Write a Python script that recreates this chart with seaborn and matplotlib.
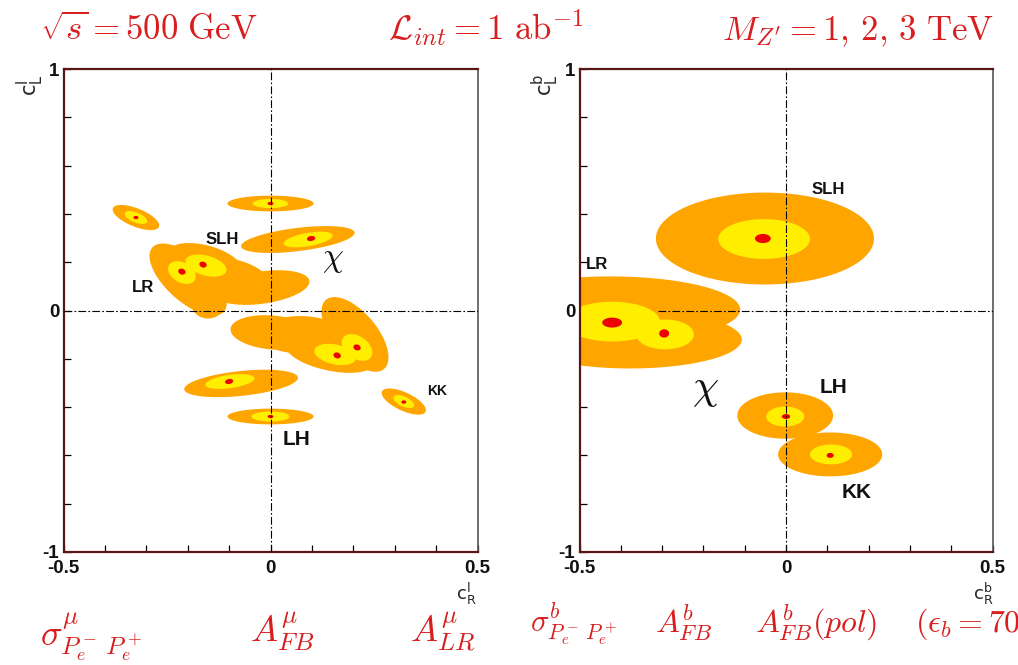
import numpy as np
import matplotlib
matplotlib.use("Agg")
import matplotlib.pyplot as plt
import seaborn as sns

sns.set_theme(style="white")
plt.rcParams['font.family'] = ['Liberation Sans', 'DejaVu Sans']

# ---------------- data: allowed regions (cx, cy, semi-a, semi-b [x-units], tilt deg) -------------
LEFT_ORANGE = [
    (-0.325, 0.385, 0.060, 0.022, -22),   # top-left blob
    (0.000, 0.443, 0.104, 0.019, 0),      # top centre
    (0.066, 0.294, 0.138, 0.028, 7),      # chi
    (-0.199, 0.128, 0.116, 0.053, -42),   # LR / SLH lump
    (-0.158, 0.203, 0.092, 0.039, -15),
    (-0.097, 0.128, 0.100, 0.050, -12),
    (-0.021, 0.095, 0.116, 0.039, 8),
    (-0.151, 0.025, 0.039, 0.034, 0),
    (0.004, -0.091, 0.101, 0.041, -5),    # lower lump
    (0.072, -0.100, 0.100, 0.045, 0),
    (0.204, -0.099, 0.109, 0.053, -50),
    (0.144, -0.182, 0.109, 0.039, -12),
    (-0.071, -0.302, 0.138, 0.030, 6),    # lower-left
    (0.000, -0.439, 0.104, 0.019, 0),     # LH
    (0.322, -0.377, 0.058, 0.022, -25),   # KK
]
LEFT_YELLOW = [
    (-0.325, 0.385, 0.029, 0.012, -22),
    (0.000, 0.443, 0.043, 0.011, 0),
    (0.091, 0.294, 0.060, 0.016, 10),
    (-0.214, 0.157, 0.036, 0.024, -30),
    (-0.156, 0.186, 0.051, 0.024, -15),
    (0.156, -0.182, 0.051, 0.024, -12),
    (0.209, -0.153, 0.041, 0.027, -35),
    (-0.098, -0.294, 0.060, 0.016, 8),
    (0.000, -0.439, 0.046, 0.012, 0),
    (0.322, -0.377, 0.027, 0.012, -25),
]
LEFT_RED = [
    (-0.325, 0.385, 0.006, 0.004, 0),
    (0.000, 0.443, 0.007, 0.004, 0),
    (0.098, 0.298, 0.010, 0.006, 10),
    (-0.214, 0.161, 0.009, 0.007, -20),
    (-0.163, 0.190, 0.009, 0.007, -20),
    (0.161, -0.186, 0.009, 0.007, -20),
    (0.209, -0.153, 0.009, 0.007, -20),
    (-0.100, -0.294, 0.010, 0.006, 10),
    (0.000, -0.439, 0.007, 0.004, 0),
    (0.322, -0.379, 0.006, 0.004, 0),
]
RIGHT_ORANGE = [
    (-0.051, 0.298, 0.264, 0.111, 0),     # SLH
    (-0.426, 0.004, 0.315, 0.080, 0),     # LR
    (-0.378, -0.120, 0.271, 0.070, 0),    # chi
    (-0.002, -0.435, 0.116, 0.056, 0),    # LH
    (0.107, -0.596, 0.126, 0.053, 0),     # KK
]
RIGHT_YELLOW = [
    (-0.053, 0.296, 0.111, 0.048, 0),
    (-0.421, -0.046, 0.116, 0.048, 0),
    (-0.293, -0.099, 0.070, 0.036, 0),
    (-0.002, -0.439, 0.046, 0.024, 0),
    (0.109, -0.596, 0.051, 0.024, 0),
]
RIGHT_RED = [
    (-0.056, 0.298, 0.019, 0.011, 0),
    (-0.421, -0.050, 0.024, 0.012, 0),
    (-0.295, -0.095, 0.012, 0.010, 0),
    (0.000, -0.439, 0.010, 0.006, 0),
    (0.107, -0.600, 0.0085, 0.006, 0),
]

LEFT_LABELS = [("SLH", -0.117, 0.294, 12), ("LR", -0.308, 0.095, 12),
               ("KK", 0.402, -0.335, 10), ("LH", 0.064, -0.534, 15)]
LEFT_CHI = (0.151, 0.211, 24)
RIGHT_LABELS = [("SLH", 0.102, 0.501, 12), ("LR", -0.458, 0.190, 12),
                ("LH", 0.114, -0.319, 15), ("KK", 0.172, -0.754, 15)]
RIGHT_CHI = (-0.196, -0.327, 30)

HEADER = [(r"$\sqrt{s} = 500\ \mathrm{GeV}$", 40),
          (r"$\mathcal{L}_{int} = 1\ \mathrm{ab}^{-1}$", 388),
          (r"$M_{Z'} = 1,\, 2,\, 3\ \mathrm{TeV}$", 722)]
FOOTER = [(r"$\sigma^{\mu}_{P_e^-\, P_e^+}$", 40, 645, 26),
          (r"$A^{\mu}_{FB}$", 250, 642, 26),
          (r"$A^{\mu}_{LR}$", 410, 642, 26),
          (r"$\sigma^{b}_{P_e^-\, P_e^+}$", 530, 632, 22),
          (r"$A^{b}_{FB}$", 655, 632, 23),
          (r"$A^{b}_{FB}(pol)$", 755, 632, 23),
          (r"$(\epsilon_b = 70$", 915, 632, 23)]

ORANGE, YELLOW, RED = '#ffa500', '#ffee00', '#ee0000'
TXT_RED = '#d81e1e'

W, H = 1018, 665
fig = plt.figure(figsize=(W / 100, H / 100), dpi=100)
fig.patch.set_facecolor('white')

ax_w_px, ax_h_px = 414.0, 483.0
axL = fig.add_axes([63.5 / W, 1 - 552 / H, ax_w_px / W, ax_h_px / H])
axR = fig.add_axes([579.5 / W, 1 - 552 / H, 413.0 / W, ax_h_px / H])


def ellipse(ax, cx, cy, a, b, ang, color, z):
    kx = ax_w_px / 1.0
    ky = ax_h_px / 2.0
    t = np.linspace(0, 2 * np.pi, 240)
    u = a * kx * np.cos(t)
    v = b * kx * np.sin(t)
    th = np.radians(ang)
    X = u * np.cos(th) - v * np.sin(th)
    Y = u * np.sin(th) + v * np.cos(th)
    ax.fill(cx + X / kx, cy + Y / ky, color=color, lw=0, zorder=z)


def panel(ax, orange, yellow, red, hline_start):
    ax.set_xlim(-0.5, 0.5)
    ax.set_ylim(-1, 1)
    ax.set_facecolor('white')
    for e in orange:
        ellipse(ax, *e, ORANGE, 1)
    for e in yellow:
        ellipse(ax, *e, YELLOW, 2)
    for e in red:
        ellipse(ax, *e, RED, 3)
    ax.plot([0, 0], [-1, 1], color='black', lw=0.8, ls=(0, (7, 2, 1.5, 2)), zorder=4)
    ax.plot([hline_start, 0.5], [0, 0], color='black', lw=0.8, ls=(0, (7, 2, 1.5, 2)), zorder=4)
    ax.set_xticks([-0.5, 0, 0.5])
    ax.set_xticklabels(['-0.5', '0', '0.5'])
    ax.set_yticks([-1, 0, 1])
    ax.set_yticklabels(['-1', '0', '1'])
    ax.set_xticks(np.arange(-0.5, 0.51, 0.1), minor=True)
    ax.set_yticks(np.arange(-1, 1.01, 0.2), minor=True)
    ax.tick_params(axis='both', which='both', direction='in', length=5, width=0.9,
                   color='black', bottom=True, left=True, top=False, right=False)
    ax.tick_params(axis='x', which='major', pad=6, labelsize=13.5)
    ax.tick_params(axis='y', which='major', pad=3, labelsize=13.5)
    for lab in ax.get_xticklabels() + ax.get_yticklabels():
        lab.set_fontweight('bold')
        lab.set_color('#111111')
    for s in ['left', 'bottom', 'top']:
        ax.spines[s].set_color('#5a1515')
        ax.spines[s].set_linewidth(1.6)
    ax.spines['right'].set_color('#555555')
    ax.spines['right'].set_linewidth(1.2)
    ax.grid(False)


panel(axL, LEFT_ORANGE, LEFT_YELLOW, LEFT_RED, -0.5)
panel(axR, RIGHT_ORANGE, RIGHT_YELLOW, RIGHT_RED, -0.31)

for ax, labels, chi in [(axL, LEFT_LABELS, LEFT_CHI), (axR, RIGHT_LABELS, RIGHT_CHI)]:
    for txt, x, y, fs in labels:
        ax.text(x, y, txt, fontsize=fs, fontweight='bold', ha='center', va='center',
                color='#111111', zorder=5)
    ax.text(chi[0], chi[1], r'$\chi$', fontsize=chi[2], ha='center', va='center',
            math_fontfamily='cm', color='#111111', zorder=5)

# axis labels
fig.text(30 / W, 1 - 85 / H, r'$\mathsf{c}^{\mathsf{l}}_{\mathsf{L}}$', rotation=90,
         fontsize=15, ha='center', va='center', math_fontfamily='dejavusans')
fig.text(545 / W, 1 - 85 / H, r'$\mathsf{c}^{\mathsf{b}}_{\mathsf{L}}$', rotation=90,
         fontsize=15, ha='center', va='center', math_fontfamily='dejavusans')
fig.text(466 / W, 1 - 594 / H, r'$\mathsf{c}^{\mathsf{l}}_{\mathsf{R}}$',
         fontsize=13, ha='center', va='center', math_fontfamily='dejavusans')
fig.text(983 / W, 1 - 594 / H, r'$\mathsf{c}^{\mathsf{b}}_{\mathsf{R}}$',
         fontsize=13, ha='center', va='center', math_fontfamily='dejavusans')

for txt, x in HEADER:
    fig.text(x / W, 1 - 40 / H, txt, fontsize=25, color=TXT_RED, ha='left',
             va='baseline', math_fontfamily='cm')
for txt, x, y, fs in FOOTER:
    fig.text(x / W, 1 - y / H, txt, fontsize=fs, color=TXT_RED, ha='left',
             va='baseline', math_fontfamily='cm', zorder=6)

fig.savefig('out.png', dpi=100, facecolor='white')
